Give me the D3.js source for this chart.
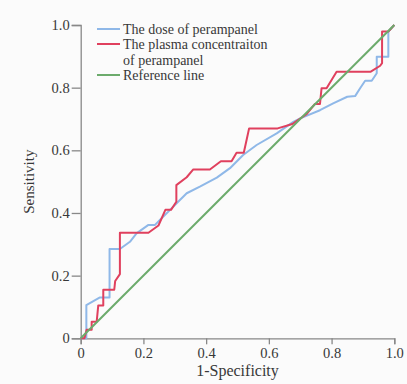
<!DOCTYPE html>
<html>
<head>
<meta charset="utf-8">
<script src="https://cdn.jsdelivr.net/npm/d3@7"></script>
<style>
  body { margin: 0; background: #fbfbfb; }
  text { font-family: "Liberation Serif", "Times New Roman", serif; fill: #383838; }
</style>
</head>
<body>
<script>
// ROC points: [1-specificity, sensitivity]
var doseFpr = [0, 0.018, 0.018, 0.06, 0.092, 0.092, 0.125, 0.157, 0.178, 0.216, 0.237, 0.258, 0.285, 0.306, 0.338, 0.38, 0.434, 0.476, 0.518, 0.561, 0.625, 0.678, 0.70, 0.763, 0.805, 0.85, 0.875, 0.891, 0.907, 0.928, 0.944, 0.944, 0.981, 0.981, 1];
var doseTpr = [0, 0, 0.106, 0.13, 0.13, 0.285, 0.285, 0.308, 0.335, 0.362, 0.362, 0.383, 0.41, 0.431, 0.463, 0.484, 0.513, 0.543, 0.585, 0.617, 0.654, 0.691, 0.702, 0.728, 0.75, 0.771, 0.773, 0.798, 0.822, 0.822, 0.846, 0.899, 0.899, 0.979, 1];

var plasmaFpr = [0, 0.012, 0.019, 0.035, 0.035, 0.051, 0.056, 0.072, 0.072, 0.107, 0.11, 0.125, 0.125, 0.216, 0.248, 0.27, 0.288, 0.305, 0.305, 0.338, 0.359, 0.412, 0.447, 0.481, 0.497, 0.52, 0.53, 0.537, 0.628, 0.675, 0.694, 0.721, 0.747, 0.763, 0.768, 0.784, 0.816, 0.925, 0.955, 0.961, 0.961, 0.981, 1];
var plasmaTpr = [0, 0, 0.027, 0.027, 0.053, 0.053, 0.105, 0.105, 0.155, 0.155, 0.183, 0.205, 0.337, 0.337, 0.36, 0.41, 0.41, 0.436, 0.489, 0.514, 0.539, 0.539, 0.565, 0.565, 0.592, 0.592, 0.638, 0.67, 0.67, 0.684, 0.697, 0.716, 0.748, 0.748, 0.798, 0.798, 0.851, 0.851, 0.87, 0.878, 0.979, 0.979, 1];

var refFpr = [0, 1];
var refTpr = [0, 1];

var tickValues = [0, 0.2, 0.4, 0.6, 0.8, 1.0];
var legendLabels = [["The dose of perampanel"], ["The plasma concentraiton", "of perampanel"], ["Reference line"]];
var colors = ["#8fb8e8", "#e0405e", "#6cab6c"];

var w = 407, h = 384;
var margin = {left: 80.7, top: 25, right: 12.7, bottom: 45.7};

var svg = d3.select("body").append("svg")
    .attr("width", w)
    .attr("height", h);

var x = d3.scaleLinear().domain([0, 1]).range([margin.left, w - margin.right]);
var y = d3.scaleLinear().domain([0, 1]).range([h - margin.bottom, margin.top]);

var fmt = function (d) { return d === 0 ? "0" : d3.format(".1f")(d); };

// axes
var xAxis = svg.append("g")
    .attr("transform", "translate(0," + y(0) + ")")
    .call(d3.axisBottom(x).tickValues(tickValues).tickFormat(fmt).tickSize(6).tickPadding(3));
var yAxis = svg.append("g")
    .attr("transform", "translate(" + x(0) + ",0)")
    .call(d3.axisLeft(y).tickValues(tickValues).tickFormat(fmt).tickSize(9).tickPadding(2));

[xAxis, yAxis].forEach(function (g) {
    g.select(".domain").attr("stroke", "#888").attr("stroke-width", 1.3);
    g.selectAll(".tick line").attr("stroke", "#888").attr("stroke-width", 1.3);
    g.selectAll(".tick text")
        .attr("fill", "#383838")
        .style("font-family", "'Liberation Serif', serif")
        .style("font-size", "14.5px");
});

svg.append("text")
    .attr("x", (x(0) + x(1)) / 2)
    .attr("y", 376)
    .attr("text-anchor", "middle")
    .style("font-size", "16px")
    .text("1-Specificity");

svg.append("text")
    .attr("transform", "translate(34," + ((y(0) + y(1)) / 2) + ") rotate(-90)")
    .attr("text-anchor", "middle")
    .style("font-size", "15px")
    .text("Sensitivity");

// curves
var line = d3.line()
    .x(function (d) { return x(d[0]); })
    .y(function (d) { return y(d[1]); });

var series = [
    d3.zip(doseFpr, doseTpr),
    d3.zip(plasmaFpr, plasmaTpr),
    d3.zip(refFpr, refTpr)
];

svg.selectAll("path.roc")
    .data(series)
    .enter()
    .append("path")
    .attr("class", "roc")
    .attr("d", line)
    .attr("fill", "none")
    .attr("stroke", function (d, i) { return colors[i]; })
    .attr("stroke-width", 2)
    .attr("stroke-linejoin", "round");

// legend
var rowY = [34, 49, 80];
var legend = svg.append("g");
legendLabels.forEach(function (lines, i) {
    legend.append("line")
        .attr("x1", 97).attr("x2", 120)
        .attr("y1", rowY[i] - 5).attr("y2", rowY[i] - 5)
        .attr("stroke", colors[i])
        .attr("stroke-width", 2);
    lines.forEach(function (t, j) {
        legend.append("text")
            .attr("x", 123)
            .attr("y", rowY[i] + j * 15.5)
            .style("font-size", "14px")
            .text(t);
    });
});
</script>
</body>
</html>
